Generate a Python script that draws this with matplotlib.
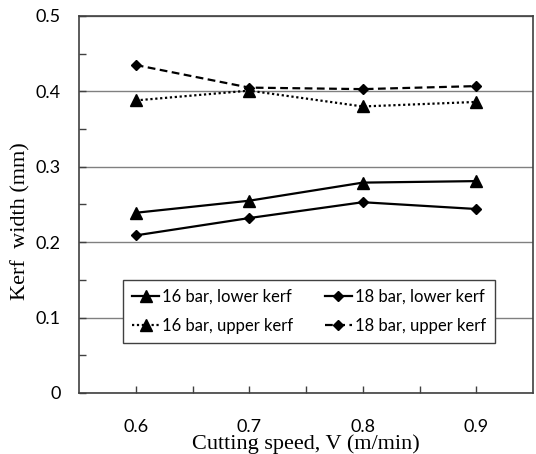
import matplotlib
matplotlib.use("Agg")
import matplotlib.pyplot as plt
from matplotlib.ticker import FixedLocator

speed = [0.6, 0.7, 0.8, 0.9]
lower_16 = [0.239, 0.255, 0.279, 0.281]
lower_18 = [0.209, 0.232, 0.253, 0.244]
upper_16 = [0.388, 0.401, 0.380, 0.386]
upper_18 = [0.435, 0.405, 0.403, 0.407]
labels = ["16 bar, lower kerf", "16 bar, upper kerf", "18 bar, lower kerf", "18 bar, upper kerf"]
xticks = [0.6, 0.7, 0.8, 0.9]
yticks = [0, 0.1, 0.2, 0.3, 0.4, 0.5]

fig = plt.figure(figsize=(5.36, 4.54), dpi=100)
ax = fig.add_axes([0.1474, 0.1344, 0.847, 0.8304])

tick_font = "Lato"
h1, = ax.plot(speed, lower_16, color="black", lw=1.6, marker="^", ms=8)
h3, = ax.plot(speed, lower_18, color="black", lw=1.6, marker="D", ms=5.5)
h2, = ax.plot(speed, upper_16, color="black", lw=1.6, ls=(0, (1, 1.2)), marker="^", ms=8)
h4, = ax.plot(speed, upper_18, color="black", lw=1.6, ls=(0, (3.5, 2)), marker="D", ms=5.5)

ax.set_xlim(0.55, 0.95)
ax.set_ylim(0, 0.5)
ax.set_xticks(xticks)
ax.set_xticklabels([f"{v:.1f}" for v in xticks], fontfamily=tick_font, fontsize=13)
ax.xaxis.set_minor_locator(FixedLocator([0.65, 0.75, 0.85]))
ax.set_yticks(yticks)
ax.set_yticklabels(["0"] + [f"{v:.1f}" for v in yticks[1:]], fontfamily=tick_font, fontsize=13)
ax.yaxis.set_minor_locator(FixedLocator([0.05, 0.15, 0.25, 0.35, 0.45]))
ax.tick_params(axis="both", which="both", direction="in", color="#404040", width=1)
ax.tick_params(axis="x", which="both", length=5, pad=19)
ax.tick_params(axis="y", which="both", length=5, pad=13)
ax.grid(axis="y", which="major", color="#808080", lw=1)
ax.set_axisbelow(True)
for s in ax.spines.values():
    s.set_color("#404040")
    s.set_linewidth(1.2)

ax.set_xlabel("Cutting speed, V (m/min)", fontfamily="Liberation Serif", fontsize=16, labelpad=-1)
ax.set_ylabel("Kerf  width (mm)", fontfamily="Liberation Serif", fontsize=16)
ax.yaxis.set_label_coords(-0.106, 0.455)

leg = ax.legend([h1, h2, h3, h4], labels, ncol=2, loc="upper left",
                bbox_to_anchor=(0.097, 0.30), borderaxespad=0,
                prop={"family": tick_font, "size": 12},
                frameon=True, fancybox=False, edgecolor="#404040", handlelength=1.6,
                handletextpad=0.2, columnspacing=1.9, labelspacing=0.75, borderpad=0.55)
leg.get_frame().set_linewidth(1)
leg.get_frame().set_alpha(1)

fig.savefig("out.png", dpi=100)
